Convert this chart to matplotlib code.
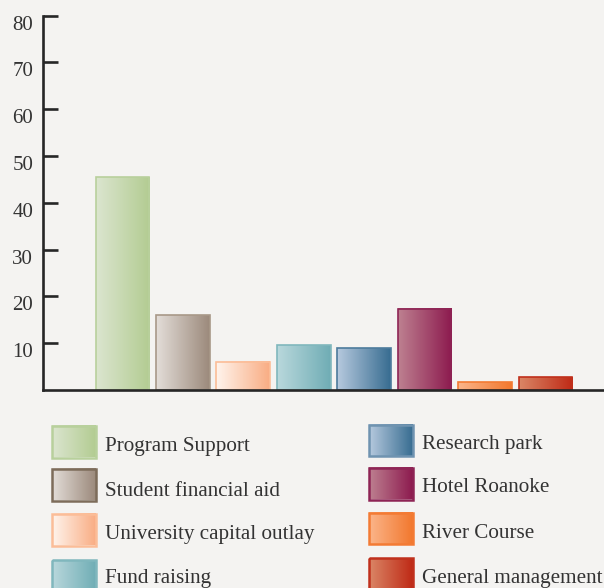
import numpy as np
import matplotlib
matplotlib.use("Agg")
import matplotlib.pyplot as plt
import matplotlib.transforms as mtransforms
from matplotlib.colors import to_rgb
from matplotlib.patches import Rectangle

categories = ["Program Support", "Student financial aid", "University capital outlay",
              "Fund raising", "Research park", "Hotel Roanoke", "River Course",
              "General management"]
values = [45.5, 16.0, 6.0, 9.6, 8.9, 17.4, 1.7, 2.7]
yticks = [10, 20, 30, 40, 50, 60, 70, 80]

left_colors = ["#dbe5cf", "#e3ddd8", "#fff4ec", "#b9d8dc", "#b6c9de", "#bd8090", "#fbb58a", "#da8666"]
right_colors = ["#b3cc92", "#9c8a7c", "#f9ad84", "#70adb5", "#386d91", "#8d1b4f", "#f2782e", "#bf2a16"]
edge_colors = ["#b8d09c", "#a89888", "#fbbd98", "#80b7bd", "#4d7b9c", "#8e2455", "#f37b34", "#c0301c"]
legend_edges = ["#b8d09c", "#7d6c5a", "#fbbd98", "#80b7bd", "#6f93b0", "#8e2455", "#f37b34", "#c0301c"]

BG = "#f4f3f1"
TXT = "#333333"
FONT = ["Liberation Serif", "DejaVu Serif"]
plt.rcParams["font.family"] = FONT

W, H = 604, 588
fig = plt.figure(figsize=(W / 100, H / 100), dpi=100, facecolor=BG)


def grad(c0, c1, n=64):
    a, b = np.array(to_rgb(c0)), np.array(to_rgb(c1))
    t = np.linspace(0, 1, n)[:, None]
    return (a * (1 - t) + b * t)[None, :, :]


# main axes: left x=43, right x=604, bottom y=390, top y=15.5
ax = fig.add_axes([43 / W, (H - 390) / H, (W - 43) / W, (390 - 15.5) / H])
ax.set_facecolor(BG)
bw = 0.89
for i, v in enumerate(values):
    ax.imshow(grad(left_colors[i], right_colors[i]), extent=(i - bw / 2, i + bw / 2, 0, v),
              aspect="auto", interpolation="bilinear", zorder=2)
    ax.add_patch(Rectangle((i - bw / 2, 0), bw, v, fill=False, edgecolor=edge_colors[i],
                           linewidth=1.2, zorder=3))
ax.set_xlim(-1.316, 7.97)
ax.set_ylim(0, 80)
for s in ["top", "right"]:
    ax.spines[s].set_visible(False)
for s in ["left", "bottom"]:
    ax.spines[s].set_color("#262626")
    ax.spines[s].set_linewidth(1.9)
    ax.spines[s].set_zorder(4)
ax.set_xticks([])
ax.set_yticks(yticks)
ax.set_yticklabels([str(t) for t in yticks])
ax.tick_params(axis="y", direction="in", length=11, width=1.9, color="#262626",
               labelsize=15, labelcolor=TXT, pad=7)
offset = mtransforms.ScaledTranslation(0, -7 / 100, fig.dpi_scale_trans)
for lbl in ax.get_yticklabels():
    lbl.set_transform(lbl.get_transform() + offset)

# legend axes in pixel coordinates
lax = fig.add_axes([0, 0, 1, 1])
lax.axis("off")
lax.patch.set_alpha(0)
col_x = [51.5, 368.5]
row_y = [[426, 469, 514, 560], [424.5, 468, 512.5, 558]]
text_y = [[447, 492, 535, 579], [445, 488, 533, 579]]
sw, sh = 44, 31.5
for i, name in enumerate(categories):
    c, r = i // 4, i % 4
    x0, y0 = col_x[c], row_y[c][r]
    lax.imshow(grad(left_colors[i], right_colors[i]), extent=(x0, x0 + sw, y0 + sh, y0),
               aspect="auto", interpolation="bilinear", zorder=2)
    lax.add_patch(Rectangle((x0, y0), sw, sh, fill=False, edgecolor=legend_edges[i],
                            linewidth=1.8, zorder=3))
    lax.text(x0 + 53.5, text_y[c][r], name, fontsize=15.2, color=TXT, va="center", ha="left")
lax.set_xlim(0, W)
lax.set_ylim(H, 0)

fig.savefig("out.png", dpi=100, facecolor=BG)
